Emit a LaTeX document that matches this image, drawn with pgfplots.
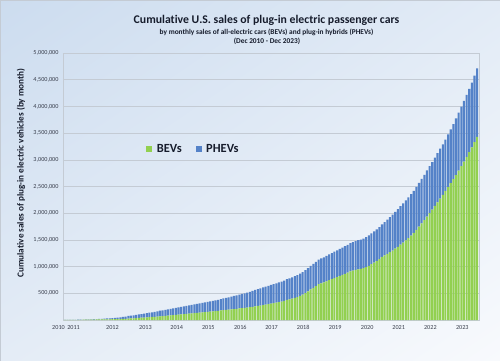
\documentclass[border=0pt]{standalone}
\usepackage{fontspec}
\setmainfont{Carlito}[Ligatures=NoCommon]
\usepackage{pgfplots}
\usepackage{pgfplotstable}
\usetikzlibrary{shadings}
\pgfplotsset{compat=1.18}
\definecolor{bevgreen}{RGB}{146,208,80}
\definecolor{phevblue}{RGB}{84,130,200}
\definecolor{bgul}{RGB}{204,220,239}
\definecolor{bgur}{RGB}{226,235,246}
\definecolor{bgll}{RGB}{228,236,246}
\definecolor{bglr}{RGB}{248,250,253}
\definecolor{gridc}{RGB}{196,203,212}
\definecolor{txt}{RGB}{22,28,44}
% month index (0 = Dec 2010), cumulative BEV and PHEV sales in thousands
\pgfplotstableread{
m bev phev
0 0.02 0.33
1 0.1 0.65
2 0.2 0.9
3 0.5 1.5
4 1.1 2.0
5 2.2 2.5
6 3.9 3.1
7 4.9 3.2
8 6.2 3.5
9 7.2 4.2
10 8.1 5.4
11 8.8 6.5
12 9.7 8.0
13 10.4 9.0
14 11.1 11.0
15 12.2 14.0
16 12.9 16.0
17 13.6 19.0
18 14.3 22.0
19 15.0 24.0
20 16.5 27.5
21 18.4 32.0
22 20.4 36.0
23 23.0 41.0
24 27.0 48.0
25 29.5 51.5
26 32.5 55
27 36.5 60
28 40 64
29 43 68.5
30 46.5 73
31 50 77.5
32 53.5 82.5
33 57 87
34 60.5 91.5
35 64.5 97
36 70 105
37 73.5 108.5
38 77 112
39 82 117
40 86.5 121.5
41 91 126
42 95.5 131
43 100 135.5
44 104.5 140
45 109 144.5
46 113.5 149
47 118.5 154
48 125 160
49 129 163.5
50 133 167.5
51 138 172
52 142.5 176.5
53 147.5 181
54 152.5 186
55 157.5 191
56 162.5 196
57 168 201
58 173 206
59 178 212
60 185 220
61 189.5 225.5
62 194.5 231.5
63 200 238
64 205 244.5
65 210.5 251
66 216 258
67 222 265
68 228 272.5
69 234 280
70 240 287.5
71 246.5 298
72 255 310
73 263 316
74 271 322
75 280 329
76 288.5 335.5
77 297.5 342
78 307 349
79 316 355
80 325.5 361.5
81 335 368
82 345 374.5
83 357 381.5
84 375 390
85 386 395
86 398 400
87 414 406
88 430 411
89 450 417
90 475 423
91 505 429
92 537 435
93 572 441
94 603 447
95 635 453
96 670 460
97 688 465
98 705 470
99 725 476
100 745 482
101 765 488
102 785 494
103 805 499
104 825 505
105 845 511
106 865 517
107 885 523
108 910 530
109 925 535
110 938 540
111 950 545
112 958 549
113 970 555
114 990 562
115 1015 569
116 1045 577
117 1075 584
118 1105 592
119 1140 600
120 1180 610
121 1210 625
122 1240 640
123 1270 657
124 1300 673
125 1335 690
126 1370 708
127 1410 722
128 1450 735
129 1490 748
130 1535 762
131 1580 776
132 1630 790
133 1690 805
134 1750 820
135 1810 835
136 1870 850
137 1935 865
138 2000 880
139 2065 893
140 2135 906
141 2205 919
142 2275 933
143 2345 946
144 2420 960
145 2490 985
146 2565 1005
147 2640 1030
148 2715 1060
149 2795 1090
150 2880 1115
151 2965 1140
152 3055 1160
153 3145 1185
154 3235 1210
155 3330 1245
156 3430 1280
}\sales
\begin{document}
\begin{tikzpicture}
\shade[upper left=bgul, upper right=bgur, lower left=bgll, lower right=bglr] (0bp,0bp) rectangle (500bp,361bp);
\draw[gridc, line width=0.5bp] (0.25bp,0.25bp) rectangle (499.75bp,360.75bp);
\begin{axis}[
  at={(63bp,41bp)}, anchor=south west,
  scale only axis, width=416bp, height=267bp,
  xmin=-0.7, xmax=156.7, ymin=0, ymax=5000000,
  clip=false,
  ybar stacked, bar width=0.78,
  axis line style={gridc, line width=0.6bp},
  ymajorgrids, major grid style={gridc, line width=0.6bp},
  major tick length=0pt,
  ytick={500000,1000000,1500000,2000000,2500000,3000000,3500000,4000000,4500000,5000000},
  scaled y ticks=false,
  ticklabel style={font=\fontsize{6.2}{7}\selectfont, text=txt!85},
  yticklabel style={xshift=-1bp, /pgf/number format/.cd, fixed, precision=0, 1000 sep={,}, assume math mode=true},
  xtick={3.3,18,30.5,42.3,54.3,66.4,78.2,90.2,102.3,114.4,126.3,138.3,150.4},
  xticklabels={2011,2012,2013,2014,2015,2016,2017,2018,2019,2020,2021,2022,2023},
  xticklabel style={yshift=-1.5bp},
  legend style={at={(0.2,0.64)}, anchor=west, draw=none, fill=none, inner sep=0pt,
    font=\fontsize{12.5}{14}\selectfont\bfseries, text=txt,
    legend columns=2,
    /tikz/every odd column/.append style={column sep=2.5bp},
    /tikz/every even column/.append style={column sep=12bp}},
  legend image code/.code={\fill[#1] (0bp,-2.5bp) rectangle (6bp,3.5bp);},
]
\addplot[fill=bevgreen, draw=none] table[x=m, y expr=\thisrow{bev}*1000] {\sales};
\addplot[fill=phevblue, draw=none] table[x=m, y expr=\thisrow{phev}*1000] {\sales};
\legend{BEVs, PHEVs}
\node[anchor=north, font=\fontsize{6.2}{7}\selectfont, text=txt!85, yshift=-1.5bp] at (axis cs:-2.4,0) {2010};
\end{axis}
\node[font=\fontsize{11.8}{14}\selectfont\bfseries, text=txt] at (266.5bp,341bp) {Cumulative U.S. sales of plug-in electric passenger cars};
\node[font=\fontsize{7.4}{9}\selectfont\bfseries, text=txt] at (266.5bp,329bp) {by monthly sales of all-electric cars (BEVs) and plug-in hybrids (PHEVs)};
\node[font=\fontsize{7.4}{9}\selectfont\bfseries, text=txt] at (267bp,319.3bp) {(Dec 2010 - Dec 2023)};
\node[rotate=90, font=\fontsize{9.2}{11}\selectfont\bfseries, text=txt] at (21bp,188bp) {Cumulative sales of plug-in electric vehicles (by month)};
\end{tikzpicture}
\end{document}
